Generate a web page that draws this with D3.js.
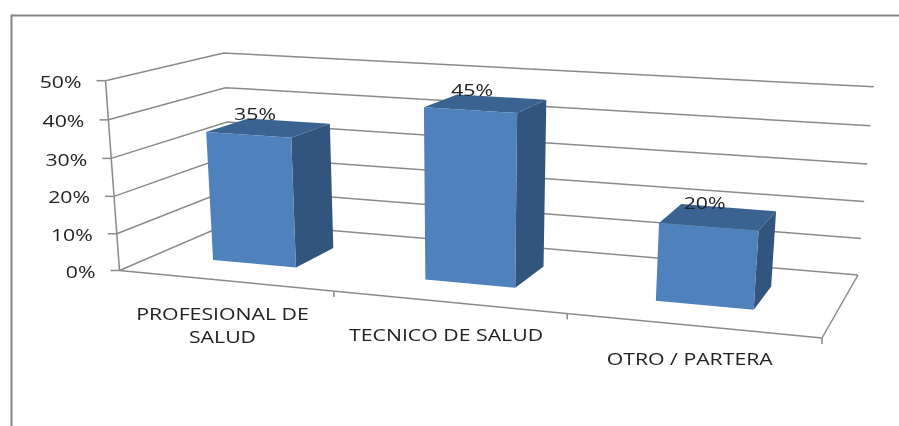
<!DOCTYPE html>
<html><head><meta charset="utf-8">
<script src="https://cdn.jsdelivr.net/npm/d3@7/dist/d3.min.js"></script>
<style>html,body{margin:0;padding:0;background:#fff}svg{display:block}text{font-family:"Open Sans",sans-serif;fill:#222}</style>
</head><body><svg id="c" width="899" height="426"></svg>
<script>
const categories=[["PROFESIONAL DE","SALUD"],["TECNICO DE SALUD"],["OTRO / PARTERA"]];
const values=[0.35,0.45,0.20];
const axisTicks=[0,0.1,0.2,0.3,0.4,0.5];

// Perspective camera of the 3-D chart: floor corners [front-left, front-right, back-right, back-left],
// plus the vanishing point of the vertical edges and its strength.
const floorQuad=[[119.5,270.5],[822,338],[858,275],[232,222]];
const verticalVP=[465,4961],verticalK=-0.0389;
function homography(q){
  const [[x0,y0],[x1,y1],[x2,y2],[x3,y3]]=q;
  const dx1=x1-x2,dx2=x3-x2,sx=x0-x1+x2-x3,dy1=y1-y2,dy2=y3-y2,sy=y0-y1+y2-y3;
  const det=dx1*dy2-dx2*dy1;
  const g=(sx*dy2-dx2*sy)/det,h=(dx1*sy-sx*dy1)/det;
  const a=x1-x0+g*x1,b=x3-x0+h*x3,d=y1-y0+g*y1,e=y3-y0+h*y3;
  return (u,v)=>[a*u+b*v+x0,d*u+e*v+y0,g*u+h*v+1];
}
const hFloor=homography(floorQuad);
const yScale=d3.scaleLinear().domain([0,0.5]).range([0,1]);
const xScale=d3.scaleBand().domain(d3.range(categories.length)).range([-0.006,0.994]).paddingInner(0.6).paddingOuter(0.3);
const depth={front:0.3,back:0.68};
function P(u,d,val){
  const [X,Y,W]=hFloor(u,d),k=verticalK*yScale(val);
  return [(X+verticalVP[0]*k)/(W+k),(Y+verticalVP[1]*k)/(W+k)];
}

const svg=d3.select("#c");
const defs=svg.append("defs");
defs.append("filter").attr("id","soft").append("feGaussianBlur").attr("stdDeviation",0.4);
const root=svg.append("g").attr("filter","url(#soft)");
const lineC="#8a8a8a";
const path=d3.line();
function label(x,y,size,s){
  // the reference's type is stretched horizontally
  root.append("text").attr("transform",`translate(${x},${y}) scale(1.25,1)`).attr("dy","0.36em")
    .attr("text-anchor",label.anchor).attr("font-size",size).text(s);
}
// outer frame
root.append("path").attr("d",path([[11.5,426],[11.5,15.5],[899,15.5]])).attr("fill","none").attr("stroke","#858585").attr("stroke-width",2);
// gridlines along side and back walls
const grid=root.append("g").attr("fill","none").attr("stroke",lineC).attr("stroke-width",1.5);
axisTicks.forEach(t=>{grid.append("path").attr("d",path([P(0,0,t),P(0,1,t),P(1,1,t)]));});
// vertical axis and floor
grid.append("path").attr("d",path([P(0,0,0.5),P(0,0,0)]));
grid.append("path").attr("d",path([P(0,0,0),P(1,0,0),P(1,1,0)]));
// value ticks and labels
label.anchor="end";
axisTicks.forEach(t=>{
  const p=P(0,0,t);
  grid.append("path").attr("d",path([[p[0]-9,p[1]],p]));
  label(p[0]-24,p[1]+1,17,d3.format(".0%")(t));
});
// category ticks
d3.range(1,categories.length+1).forEach(i=>{
  const p=P(i/categories.length,0,0);
  grid.append("path").attr("d",path([p,[p[0],p[1]+6]]));
});
// bars
const colors={front:"#4f81bd",top:"#3b6491",side:"#32547e"};
const bars=root.append("g");
label.anchor="middle";
const barLabels=[];
values.forEach((v,i)=>{
  const u0=xScale(i),u1=u0+xScale.bandwidth(),f=depth.front,b=depth.back;
  const g=bars.append("g");
  g.append("path").attr("fill",colors.side).attr("d",path([P(u1,f,0),P(u1,b,0),P(u1,b,v),P(u1,f,v)])+"Z");
  g.append("path").attr("fill",colors.top).attr("d",path([P(u0,f,v),P(u1,f,v),P(u1,b,v),P(u0,b,v)])+"Z");
  g.append("path").attr("fill",colors.front).attr("d",path([P(u0,f,0),P(u1,f,0),P(u1,f,v),P(u0,f,v)])+"Z");
  barLabels.push([P(u0+xScale.bandwidth()/2,(f+b)/2,v),v]);
});
barLabels.forEach(([c,v])=>label(c[0]-14,c[1]-14,17,d3.format(".0%")(v)));
// category labels
categories.forEach((lines,i)=>{
  const p=P((i+0.5)/categories.length,0,0);
  lines.forEach((s,k)=>label(p[0]-2,p[1]+33+k*23,17,s));
});
</script></body></html>
